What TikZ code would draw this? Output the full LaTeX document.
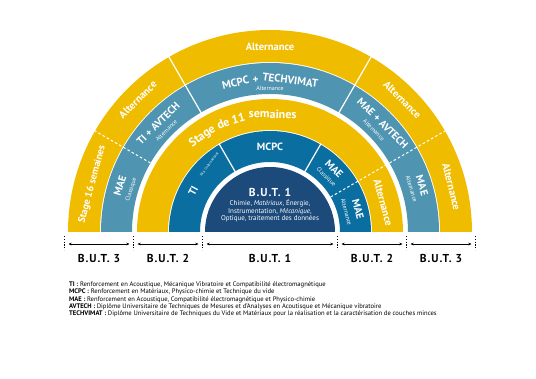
\documentclass[tikz,border=0pt]{standalone}
\usepackage{fontspec}
\setmainfont{PT Sans}
\usetikzlibrary{arrows.meta,calc}
\definecolor{butgold}{HTML}{F0BC00}
\definecolor{butteal}{HTML}{4F94B0}
\definecolor{butblue}{HTML}{0A6FA0}
\definecolor{butnavy}{HTML}{1C4A7B}
\newcommand{\butfont}{\bfseries\fontsize{11.5}{13}\selectfont\addfontfeature{LetterSpace=8}}

\begin{document}
\begin{tikzpicture}[x=1pt,y=1pt,
    seglabel/.style={text=white,font=\bfseries\fontsize{10.5}{12}\selectfont,inner sep=0pt},
    outerlabel/.style={text=white,font=\bfseries\fontsize{10.5}{12}\selectfont,inner sep=0pt},
    arcword/.style={text=white,inner sep=0pt,text height=0.72em,text depth=0.2em},
    subtag/.style={text=white,font=\fontsize{6}{7}\selectfont,inner sep=0pt},
    cut/.style={white,line width=1.2pt},
    dashcut/.style={white,line width=1pt,dash pattern=on 2.6pt off 2.2pt},
    yearmark/.style={line width=0.8pt,dash pattern=on 1.2pt off 1.6pt},
    span/.style={{Stealth[length=3.2pt,width=2.6pt]}-{Stealth[length=3.2pt,width=2.6pt]},line width=0.6pt}]
  \useasboundingbox (-270,-147) rectangle (266,232);

  % rings
  \fill[butnavy] (0:65) arc[start angle=0,end angle=180,radius=65] -- cycle;
  \foreach \ri/\ro/\c in {70/101/butblue,102/133/butgold,138/169/butteal,170/202/butgold}
    \fill[\c] (0:\ro) arc[start angle=0,end angle=180,radius=\ro] -- (180:\ri) arc[start angle=180,end angle=0,radius=\ri] -- cycle;

  % separators
  \foreach \t/\ri/\ro in {120/69/102,60/69/102,120/137/203,60/137/203}
    \draw[cut] (\t:\ri) -- (\t:\ro);
  \foreach \t/\ri/\ro in {30/70/133,30/138/202,150/138/202}
    \draw[dashcut] (\t:\ri) -- (\t:\ro);

  % B.U.T. 1
  \node[text=white,font=\butfont] (but1) at (90:40) {B.U.T. 1};
  \node[text=white,font=\fontsize{7}{7.6}\selectfont,align=center] (but1txt) at (0,21.3)
    {Chimie, \textit{Matériaux}, Énergie,\\Instrumentation, \textit{Mécanique},\\Optique, traitement des données};

  % ring 1
  \node[seglabel,rotate=62] (ti) at (152:87) {TI};
  \node[subtag,font=\fontsize{3.6}{4}\selectfont,rotate=54] (tiint) at (132:91) {S4 à l'international};
  \node[seglabel] (mcpc) at (90:85) {MCPC};
  \node[seglabel,rotate=-45] (maeclass) at (44.5:90) {MAE};
  \node[subtag,rotate=-45] (maeclasssub) at (44.5:78.5) {Classique};
  \node[seglabel,rotate=-75] (maealt) at (14.6:91) {MAE};
  \node[subtag,rotate=-75] (maealtsub) at (14.6:79) {Alternance};

  % ring 2
  \foreach \w/\t/\nm in {Stage/125.3/sw1,de/113.4/sw2,11/105.6/sw3,semaines/88.7/sw4}
    \node[arcword,font=\bfseries\fontsize{12}{14}\selectfont,rotate=\t-90] (\nm) at (\t:116.5) {\w};
  \node[outerlabel,rotate=-75] (stagealt) at (14.6:117) {Alternance};

  % ring 3
  \node[seglabel,rotate=73] (maeleft) at (163:157) {MAE};
  \node[subtag,rotate=73] (maeleftsub) at (163:145) {Classique};
  \node[seglabel,rotate=45] (tiav) at (135.8:156) {TI + AVTECH};
  \node[subtag,rotate=45] (tiavsub) at (135.6:145) {Alternance};
  \foreach \w/\t/\nm in {MCPC/103/tw1,+/95.4/tw2,TECHVIMAT/82.4/tw3}
    \node[arcword,font=\bfseries\fontsize{11}{13}\selectfont,rotate=\t-90] (\nm) at (\t:152) {\w};
  \node[subtag] (mcpctvsub) at (90:143.5) {Alternance};
  \node[seglabel,rotate=-45] (maeav) at (44:156.5) {MAE + AVTECH};
  \node[subtag,rotate=-45] (maeavsub) at (44.5:145.5) {Alternance};
  \node[seglabel,rotate=-73] (maeright) at (17:159) {MAE};
  \node[subtag,rotate=-73] (maerightsub) at (17:148) {Alternance};

  % ring 4
  \node[outerlabel,font=\bfseries\fontsize{10}{12}\selectfont,rotate=75] (stage16) at (165:184) {Stage 16 semaines};
  \node[outerlabel,rotate=45] (altleft) at (135:187) {Alternance};
  \node[outerlabel] (alttop) at (90:185) {Alternance};
  \node[outerlabel,rotate=-45] (altright) at (45:187) {Alternance};
  \node[outerlabel,rotate=-76] (altfar) at (14:187) {Alternance};

  % years
  \foreach \n/\x in {m0/-205.5,m1/-136.5,m2/-67.5,m3/67.5,m4/136.5,m5/205.5} {
    \coordinate (\n t) at (\x,-4);
    \coordinate (\n b) at (\x,-18);
    \coordinate (\n) at (\x,-12);
    \draw[yearmark] (\n t) -- (\n b);
  }
  \foreach \a/\b/\lab/\nm in {m0/m1/{B.U.T. 3}/y3l,m1/m2/{B.U.T. 2}/y2l,m2/m3/{B.U.T. 1}/y1,m3/m4/{B.U.T. 2}/y2r,m4/m5/{B.U.T. 3}/y3r} {
    \draw[span] ([xshift=4pt]\a) -- ([xshift=-4pt]\b);
    \node[font=\butfont] (\nm) at ($(\a)!0.5!(\b)+(0,-14.5)$) {\lab};
  }

  % legend
  \foreach \i/\k/\d in {
      0/TI/{Renforcement en Acoustique, Mécanique Vibratoire et Compatibilité électromagnétique},
      1/MCPC/{Renforcement en Matériaux, Physico-chimie et Technique du vide},
      2/MAE/{Renforcement en Acoustique, Compatibilité électromagnétique et Physico-chimie},
      3/AVTECH/{Diplôme Universitaire de Techniques de Mesures et d'Analyses en Acoutisque et Mécanique vibratoire},
      4/TECHVIMAT/{Diplôme Universitaire de Techniques du Vide et Matériaux pour la réalisation et la caractérisation de couches minces}}
    \node[anchor=west,inner sep=0pt,font=\fontsize{6.6}{7}\selectfont] (leg\i) at (-201,-53-7.3*\i) {\textbf{\k\ :} \d};
\end{tikzpicture}
\end{document}
